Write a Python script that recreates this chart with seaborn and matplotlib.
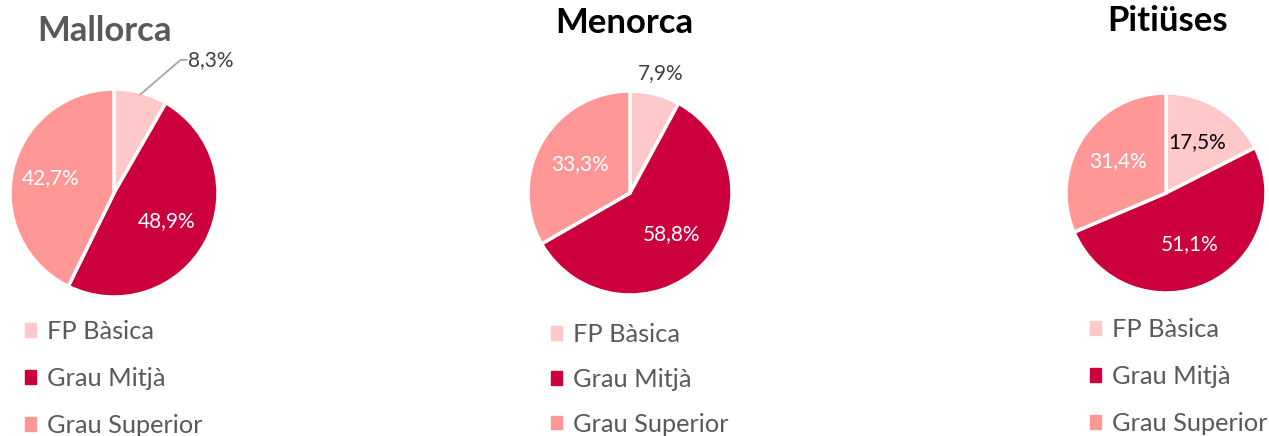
import matplotlib

matplotlib.use("Agg")
import matplotlib.pyplot as plt
import matplotlib.patches as mpatches
import numpy as np
import seaborn as sns

# data
categories = ["FP Bàsica", "Grau Mitjà", "Grau Superior"]
islands = ["Mallorca", "Menorca", "Pitiüses"]
mallorca = [8.3, 48.9, 42.7]
menorca = [7.9, 58.8, 33.3]
pitiuses = [17.5, 51.1, 31.4]

colors = ["#FFC9C9", "#CC003D", "#FF9797"]
W, H = 1269, 436

sns.set_theme(style="white")
plt.rcParams["font.family"] = ["Lato", "DejaVu Sans"]

fig = plt.figure(figsize=(W / 100, H / 100), dpi=100)

# per-pie layout (pixels): center x, center y from top, radius
layout = {
    "Mallorca": dict(cx=114, cy=193, r=104, tx=105, ty=31, tcol="#595959",
                     lx=25, ly=320, ls=0.95, dist=[None, 0.57, 0.63]),
    "Menorca": dict(cx=630, cy=193, r=102, tx=624, ty=23, tcol="#000000",
                    lx=551, ly=323, ls=0.86, dist=[1.21, 0.575, 0.57]),
    "Pitiüses": dict(cx=1166, cy=193, r=100, tx=1168, ty=21, tcol="#000000",
                     lx=1090, ly=318, ls=0.95, dist=[0.6, 0.56, 0.57]),
}
values = {"Mallorca": mallorca, "Menorca": menorca, "Pitiüses": pitiuses}


def fmt(v):
    return f"{v:.1f}%".replace(".", ",")


for name in islands:
    lo = layout[name]
    vals = values[name]
    r = lo["r"]
    ax = fig.add_axes([(lo["cx"] - r) / W, (H - lo["cy"] - r) / H, 2 * r / W, 2 * r / H])
    wedges, _ = ax.pie(vals, colors=colors, startangle=90, counterclock=False,
                       wedgeprops=dict(edgecolor="white", linewidth=2.5))
    ax.set_xlim(-1, 1)
    ax.set_ylim(-1, 1)
    ax.axis("off")

    for i, (w, v) in enumerate(zip(wedges, vals)):
        ang = np.deg2rad((w.theta1 + w.theta2) / 2)
        d = lo["dist"][i]
        if d is None:
            # leader line label (Mallorca FP Bàsica)
            x0, y0 = 0.98 * np.cos(ang), 0.98 * np.sin(ang)
            ax.plot([x0, 0.64, 0.70], [y0, 1.28, 1.28], color="#A6A6A6", lw=1.3,
                    clip_on=False)
            ax.text(0.71, 1.28, fmt(v), color="#404040", fontsize=15,
                    ha="left", va="center")
            continue
        x, y = d * np.cos(ang), d * np.sin(ang)
        if i == 0:
            col = "#404040" if d > 1 else "#000000"
        else:
            col = "white"
        ax.text(x, y, fmt(v), color=col, fontsize=15, ha="center", va="center")

    fig.text(lo["tx"] / W, 1 - lo["ty"] / H, name, color=lo["tcol"], fontsize=25,
             fontweight="bold", ha="center", va="center")

    handles = [mpatches.Patch(color=c, label=l) for c, l in zip(colors, categories)]
    fig.legend(handles=handles, loc="upper left",
               bbox_to_anchor=(lo["lx"] / W, 1 - lo["ly"] / H), frameon=False,
               fontsize=18.3, labelcolor="#595959", handlelength=0.45,
               handleheight=0.45, handletextpad=0.4, labelspacing=lo["ls"],
               borderaxespad=0, borderpad=0)

fig.savefig("out.png", dpi=100)
